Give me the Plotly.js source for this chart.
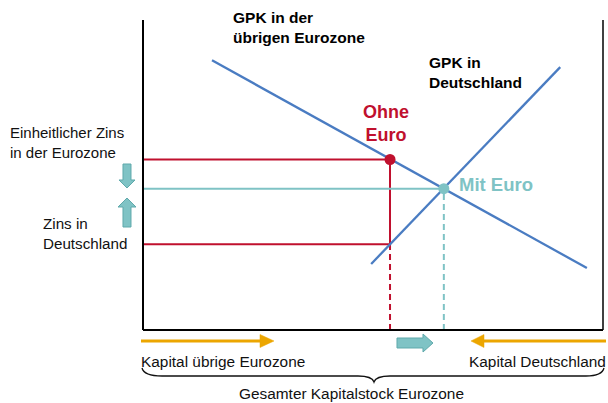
<!DOCTYPE html>
<html>
<head>
<meta charset="utf-8">
<script src="https://cdn.plot.ly/plotly-3.0.1.min.js"></script>
<style>html,body{margin:0;padding:0;background:#fff}#chart{width:608px;height:403px}</style>
</head>
<body>
<div id="chart"></div>
<script>
// ---- Data (capital stock on x: 0..100, interest rate on y: 0..100) ----
const gpkEurozoneX = [15, 96.5];
const gpkEurozoneY = [87, 20];
const gpkDeutschlandX = [49.6, 90.7];
const gpkDeutschlandY = [21.3, 84.8];
const kapitalOhneEuro = [53.7];
const kapitalMitEuro = [65.4];
const zinsEurozoneOhneEuro = [55.0];
const zinsDeutschlandOhneEuro = [27.7];
const zinsMitEuro = [45.6];
const axisMax = [100];

// ---- Styling ----
const W = 608, H = 403;
const BLUE = '#4a7cc2', RED = '#c0102e', TEAL = '#7fc3c5', TEALDARK = '#5fa9ab', ORANGE = '#eca600';
const FONT = 'Liberation Sans, Arial, sans-serif';

const k0 = kapitalOhneEuro[0], k1 = kapitalMitEuro[0];
const rO = zinsEurozoneOhneEuro[0], rD = zinsDeutschlandOhneEuro[0], rM = zinsMitEuro[0];
const M = axisMax[0];

function line(x, y, color, width, dash) {
  return {type: 'scatter', mode: 'lines', x: x, y: y, hoverinfo: 'skip',
    line: {color: color, width: width, dash: dash || 'solid'}, showlegend: false};
}
const traces = [
  line([0, k0], [rO, rO], RED, 2),
  line([0, k0], [rD, rD], RED, 2),
  line([k0, k0], [rD, rO], RED, 2),
  line([k0, k0], [0, rD], RED, 2, '6px,4px'),
  line([0, k1], [rM, rM], TEAL, 2),
  line([k1, k1], [0, rM], TEAL, 2, '6px,4px'),
  line(gpkEurozoneX, gpkEurozoneY, BLUE, 2.3),
  line(gpkDeutschlandX, gpkDeutschlandY, BLUE, 2.3),
  line([0, 0], [0, M], '#000', 2),
  line([0, M], [0, 0], '#000', 2),
  line([M, M], [0, M], '#000', 1.5),
  {type: 'scatter', mode: 'markers', x: kapitalOhneEuro, y: zinsEurozoneOhneEuro, hoverinfo: 'skip',
    marker: {color: RED, size: 11}, showlegend: false},
  {type: 'scatter', mode: 'markers', x: kapitalMitEuro, y: zinsMitEuro, hoverinfo: 'skip',
    marker: {color: TEAL, size: 11}, showlegend: false}
];

// pixel -> paper helpers for decorations
const px = v => (v / W).toFixed(5);
const py = v => (1 - v / H).toFixed(5);
function poly(pts) {
  return 'M' + pts.map(p => px(p[0]) + ',' + py(p[1])).join(' L') + ' Z';
}
function pathShape(d, fill, lc, lw) {
  return {type: 'path', xref: 'paper', yref: 'paper', path: d, fillcolor: fill,
    line: {color: lc, width: lw}, layer: 'above'};
}
const shapes = [
  // teal block arrows
  pathShape(poly([[123,164],[131,164],[131,180],[135,180],[127,188],[119,180],[123,180]]), TEAL, TEALDARK, 1),
  pathShape(poly([[127,198],[136,207],[131,207],[131,227],[123,227],[123,207],[118,207]]), TEAL, TEALDARK, 1),
  pathShape(poly([[397,338],[423,338],[423,334],[433,343],[423,352],[423,348],[397,348]]), TEAL, TEALDARK, 1),
  // orange arrows
  {type: 'line', xref: 'paper', yref: 'paper', x0: px(141), x1: px(262), y0: py(341), y1: py(341), line: {color: ORANGE, width: 3}},
  pathShape(poly([[260,334.5],[274,341],[260,347.5]]), ORANGE, ORANGE, 0.5),
  {type: 'line', xref: 'paper', yref: 'paper', x0: px(482), x1: px(606), y0: py(341), y1: py(341), line: {color: ORANGE, width: 3}},
  pathShape(poly([[484,334.5],[471,341],[484,347.5]]), ORANGE, ORANGE, 0.5),
  // brace
  pathShape('M' + px(142) + ',' + py(368) + ' Q' + px(144) + ',' + py(376) + ' ' + px(162) + ',' + py(376) +
    ' L' + px(358) + ',' + py(376) + ' Q' + px(372) + ',' + py(376) + ' ' + px(374) + ',' + py(382) +
    ' Q' + px(376) + ',' + py(376) + ' ' + px(390) + ',' + py(376) +
    ' L' + px(586) + ',' + py(376) + ' Q' + px(602) + ',' + py(376) + ' ' + px(604) + ',' + py(368),
    'rgba(0,0,0,0)', '#111', 1.3)
];

function lab(text, x, y, xa, size, color, bold, align) {
  return {xref: 'paper', yref: 'paper', x: x / W, y: 1 - y / H, xanchor: xa, yanchor: 'middle',
    text: bold ? '<b>' + text + '</b>' : text, showarrow: false, align: align || 'left',
    font: {family: FONT, size: size, color: color}};
}
const annotations = [
  lab('GPK in der<br>übrigen Eurozone', 231, 28, 'left', 15.5, '#000', true),
  lab('GPK in<br>Deutschland', 427, 72, 'left', 15.5, '#000', true),
  lab('Ohne<br>Euro', 386, 123, 'center', 18, RED, true, 'center'),
  lab('Mit Euro', 457, 184.5, 'left', 18.5, TEAL, true),
  lab('Einheitlicher Zins<br>in der Eurozone', 8, 142, 'left', 15, '#111', false),
  lab('Zins in<br>Deutschland', 41, 233, 'left', 15.2, '#111', false),
  lab('Kapital übrige Eurozone', 139, 361, 'left', 15.4, '#111', false),
  lab('Kapital Deutschland', 608, 361, 'right', 15.4, '#111', false),
  lab('Gesamter Kapitalstock Eurozone', 351, 393, 'center', 15.4, '#111', false)
];

// axis ranges so that 0..100 maps to the plotted box
const layout = {
  width: W, height: H,
  margin: {l: 0, r: 0, t: 0, b: 0},
  paper_bgcolor: '#fff', plot_bgcolor: '#fff',
  xaxis: {range: [-143 / 4.6, (W - 143) / 4.6], visible: false, fixedrange: true},
  yaxis: {range: [-(H - 330) / 3.1, 330 / 3.1], visible: false, fixedrange: true},
  shapes: shapes,
  annotations: annotations,
  showlegend: false
};
Plotly.newPlot('chart', traces, layout, {displayModeBar: false, staticPlot: true});
</script>
</body>
</html>
